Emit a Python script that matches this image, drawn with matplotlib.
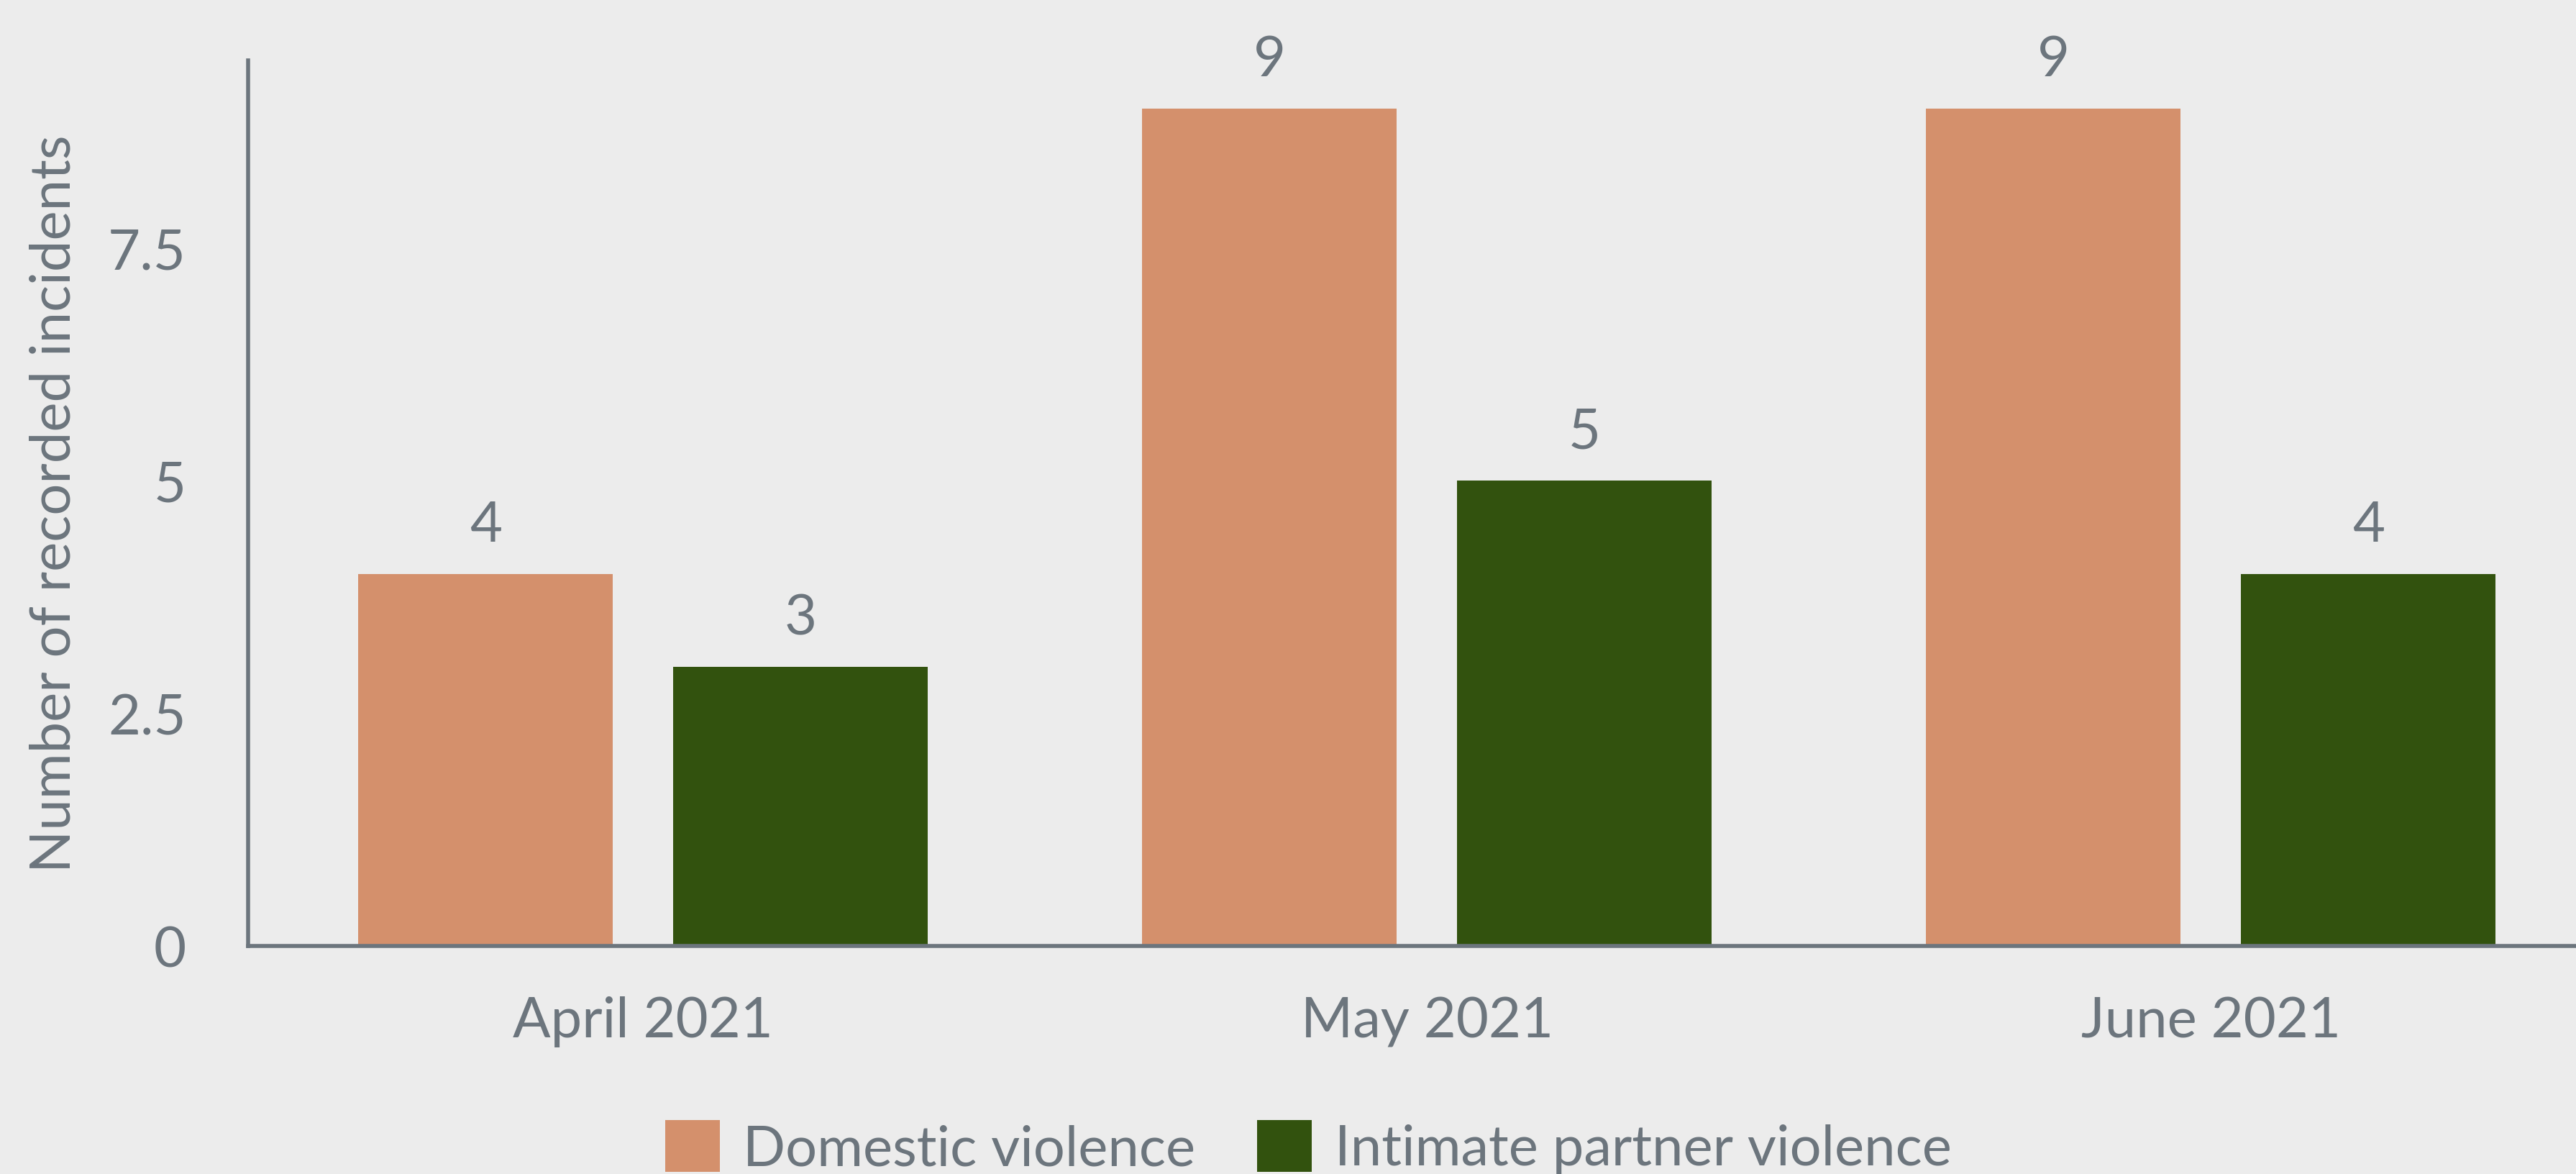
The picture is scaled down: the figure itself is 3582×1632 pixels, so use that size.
import matplotlib
matplotlib.use("Agg")
import matplotlib.pyplot as plt
from matplotlib.patches import Patch
import numpy as np

months = ["April 2021", "May 2021", "June 2021"]
series_names = ["Domestic violence", "Intimate partner violence"]
domestic = [4, 9, 9]
intimate = [3, 5, 4]
yticks = [0, 2.5, 5, 7.5]
ytick_labels = ["0", "2.5", "5", "7.5"]

BG = "#ECECEC"
GRAY = "#6C757D"
C_DV = "#D4906C"
C_IPV = "#32520E"

plt.rcParams["font.family"] = ["Lato", "DejaVu Sans"]

fig = plt.figure(figsize=(35.82, 16.33), dpi=100, facecolor=BG)
ax = fig.add_axes([0.0963, 0.1941, 1 - 0.0963, 0.948 - 0.1941])
ax.set_facecolor(BG)

x = np.arange(len(months))
w = 0.325
off = 0.201
b1 = ax.bar(x - off, domestic, w, color=C_DV, label=series_names[0])
b2 = ax.bar(x + off, intimate, w, color=C_IPV, label=series_names[1])
for b in (b1, b2):
    ax.bar_label(b, labels=[str(v) for v in b.datavalues], padding=23,
                 fontsize=56, color=GRAY)

ax.set_xlim(-0.504, 2.466)
ax.set_ylim(0, 9.52)
ax.set_xticks(x)
ax.set_xticklabels(months)
ax.set_yticks(yticks)
ax.set_yticklabels(ytick_labels)
ax.tick_params(axis="both", length=0, labelsize=56, labelcolor=GRAY)
ax.tick_params(axis="y", pad=62)
ax.tick_params(axis="x", pad=50)
ax.set_ylabel("Number of recorded incidents", fontsize=56, color=GRAY, labelpad=28)

for s in ("top", "right"):
    ax.spines[s].set_visible(False)
for s in ("left", "bottom"):
    ax.spines[s].set_color(GRAY)
    ax.spines[s].set_linewidth(4)

handles = [Patch(facecolor=C_DV, edgecolor="none"), Patch(facecolor=C_IPV, edgecolor="none")]
leg = fig.legend(handles, series_names, loc="upper center", bbox_to_anchor=(0.508, 0.046),
                 ncol=2, frameon=False, fontsize=56, handlelength=0.97, handleheight=1.05,
                 handletextpad=0.42, columnspacing=1.1, labelcolor=GRAY,
                 borderpad=0, borderaxespad=0)

fig.savefig("out.png", dpi=100, facecolor=BG)
